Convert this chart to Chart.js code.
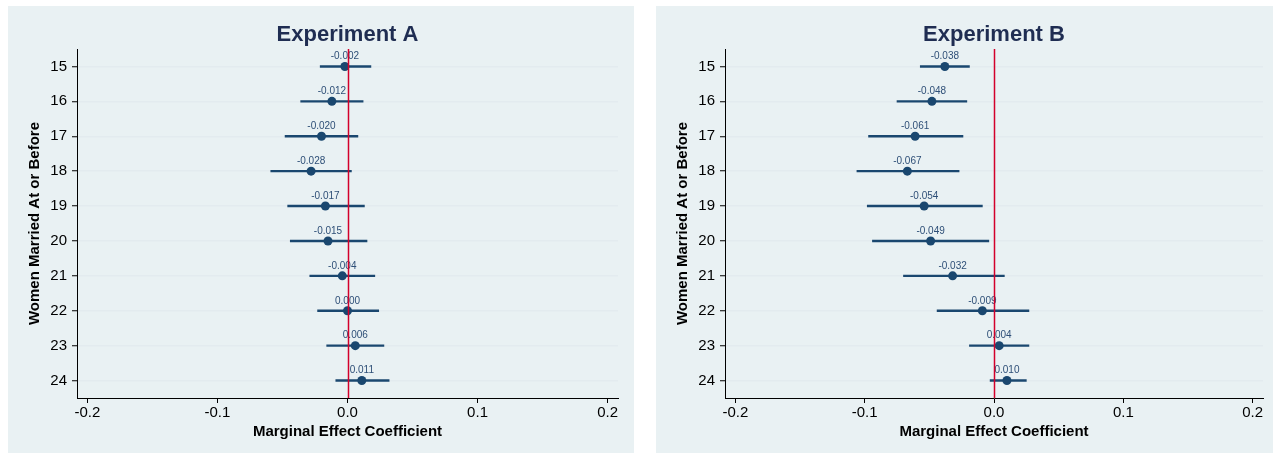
<!DOCTYPE html>
<html>
<head>
<meta charset="utf-8">
<script src="https://cdn.jsdelivr.net/npm/chart.js@4"></script>
<style>
  html, body { margin: 0; padding: 0; background: #ffffff; }
  body { position: relative; width: 1273px; height: 454px; overflow: hidden; }
  .panel { position: absolute; top: 6px; height: 447px; background: #e9f1f3; }
  #panelA { left: 8px; width: 626px; }
  #panelB { left: 656px; width: 617px; }
  canvas { display: block; }
</style>
</head>
<body>
<div class="panel" id="panelA"><canvas id="chartA" width="626" height="447"></canvas></div>
<div class="panel" id="panelB"><canvas id="chartB" width="617" height="447"></canvas></div>
<script>
// Age thresholds (rows of each panel)
const ages = ['15', '16', '17', '18', '19', '20', '21', '22', '23', '24'];

// Experiment A: marginal effects with 95% confidence bounds
const coefA = [-0.002, -0.012, -0.020, -0.028, -0.017, -0.015, -0.004, 0.000, 0.006, 0.011];
const lowA  = [-0.021, -0.036, -0.048, -0.059, -0.046, -0.044, -0.029, -0.023, -0.016, -0.009];
const highA = [ 0.018,  0.012,  0.008,  0.003,  0.013,  0.015,  0.021,  0.024,  0.028,  0.032];

// Experiment B: marginal effects with 95% confidence bounds
const coefB = [-0.038, -0.048, -0.061, -0.067, -0.054, -0.049, -0.032, -0.009, 0.004, 0.010];
const lowB  = [-0.057, -0.075, -0.097, -0.106, -0.098, -0.094, -0.070, -0.044, -0.019, -0.003];
const highB = [-0.019, -0.021, -0.024, -0.027, -0.009, -0.004, 0.008, 0.027, 0.027, 0.025];

// Horizontal axis ticks
const xTicks = [-0.2, -0.1, 0, 0.1, 0.2];
const xTickLabels = ['-0.2', '-0.1', '0.0', '0.1', '0.2'];

const FONT = '"Liberation Sans", Arial, Helvetica, sans-serif';
const NAVY = '#1a476f';
const LABEL = '#2e4f77';
const RED = '#d3002b';
const GRID = '#e3ebef';

// Draws the coefficient labels and the reference line at zero
const overlay = {
  id: 'overlay',
  afterDatasetsDraw(chart, args, opts) {
    const { ctx, chartArea, scales } = chart;
    const meta = chart.getDatasetMeta(0);
    ctx.save();
    ctx.font = '10px ' + FONT;
    ctx.fillStyle = LABEL;
    ctx.textAlign = 'center';
    ctx.textBaseline = 'middle';
    meta.data.forEach((pt, i) => {
      ctx.fillText(opts.values[i].toFixed(3), pt.x, pt.y - 10);
    });
    const x0 = Math.round(scales.x.getPixelForValue(0)) + 0.5;
    ctx.strokeStyle = RED;
    ctx.lineWidth = 1.5;
    ctx.beginPath();
    ctx.moveTo(x0, chartArea.top);
    ctx.lineTo(x0, chartArea.bottom);
    ctx.stroke();
    ctx.restore();
  }
};

function makeChart(id, title, coef, low, high, rightPad) {
  return new Chart(document.getElementById(id), {
    type: 'bar',
    data: {
      labels: ages,
      datasets: [
        {
          type: 'line',
          indexAxis: 'y',
          data: coef,
          showLine: false,
          pointRadius: 4.5,
          pointHoverRadius: 4.5,
          pointBackgroundColor: NAVY,
          pointBorderColor: NAVY,
          pointBorderWidth: 0,
          order: 0
        },
        {
          type: 'bar',
          data: low.map((l, i) => [l, high[i]]),
          backgroundColor: NAVY,
          borderWidth: 0,
          barThickness: 1.7,
          order: 1
        }
      ]
    },
    options: {
      indexAxis: 'y',
      responsive: false,
      animation: false,
      events: [],
      layout: { padding: { left: 0, right: rightPad, top: 0, bottom: 0 } },
      plugins: {
        legend: { display: false },
        tooltip: { enabled: false },
        title: {
          display: true,
          fullSize: false,
          text: title,
          color: '#1f2d52',
          font: { family: FONT, size: 22, weight: 'bold' },
          padding: { top: 15.5, bottom: 1.1 }
        },
        overlay: { values: coef }
      },
      scales: {
        x: {
          type: 'linear',
          min: -0.208,
          max: 0.208,
          afterBuildTicks: s => { s.ticks = xTicks.map(v => ({ value: v })); },
          afterFit: s => { s.height = 55; },
          grid: {
            drawOnChartArea: false,
            drawTicks: true,
            tickLength: 5,
            tickColor: '#000000',
            tickWidth: 1
          },
          border: { display: true, color: '#000000', width: 1 },
          ticks: {
            color: '#000000',
            padding: 1,
            maxRotation: 0,
            font: { family: FONT, size: 15 },
            callback: (v, i) => xTickLabels[i]
          },
          title: {
            display: true,
            text: 'Marginal Effect Coefficient',
            color: '#000000',
            font: { family: FONT, size: 15, weight: 'bold' },
            padding: { top: 0, bottom: 12 }
          }
        },
        y: {
          type: 'category',
          offset: true,
          afterFit: s => { s.width = 69; },
          grid: {
            offset: false,
            color: GRID,
            lineWidth: 1.5,
            drawTicks: true,
            tickLength: 5,
            tickColor: '#000000',
            tickWidth: 1
          },
          border: { display: true, color: '#000000', width: 1 },
          ticks: {
            color: '#000000',
            padding: 5,
            font: { family: FONT, size: 15 }
          },
          title: {
            display: true,
            text: 'Women Married At or Before',
            color: '#000000',
            font: { family: FONT, size: 15, weight: 'bold' },
            padding: { top: 18, bottom: 0 }
          }
        }
      }
    },
    plugins: [overlay]
  });
}

makeChart('chartA', 'Experiment A', coefA, lowA, highA, 16);
makeChart('chartB', 'Experiment B', coefB, lowB, highB, 10);
</script>
</body>
</html>
